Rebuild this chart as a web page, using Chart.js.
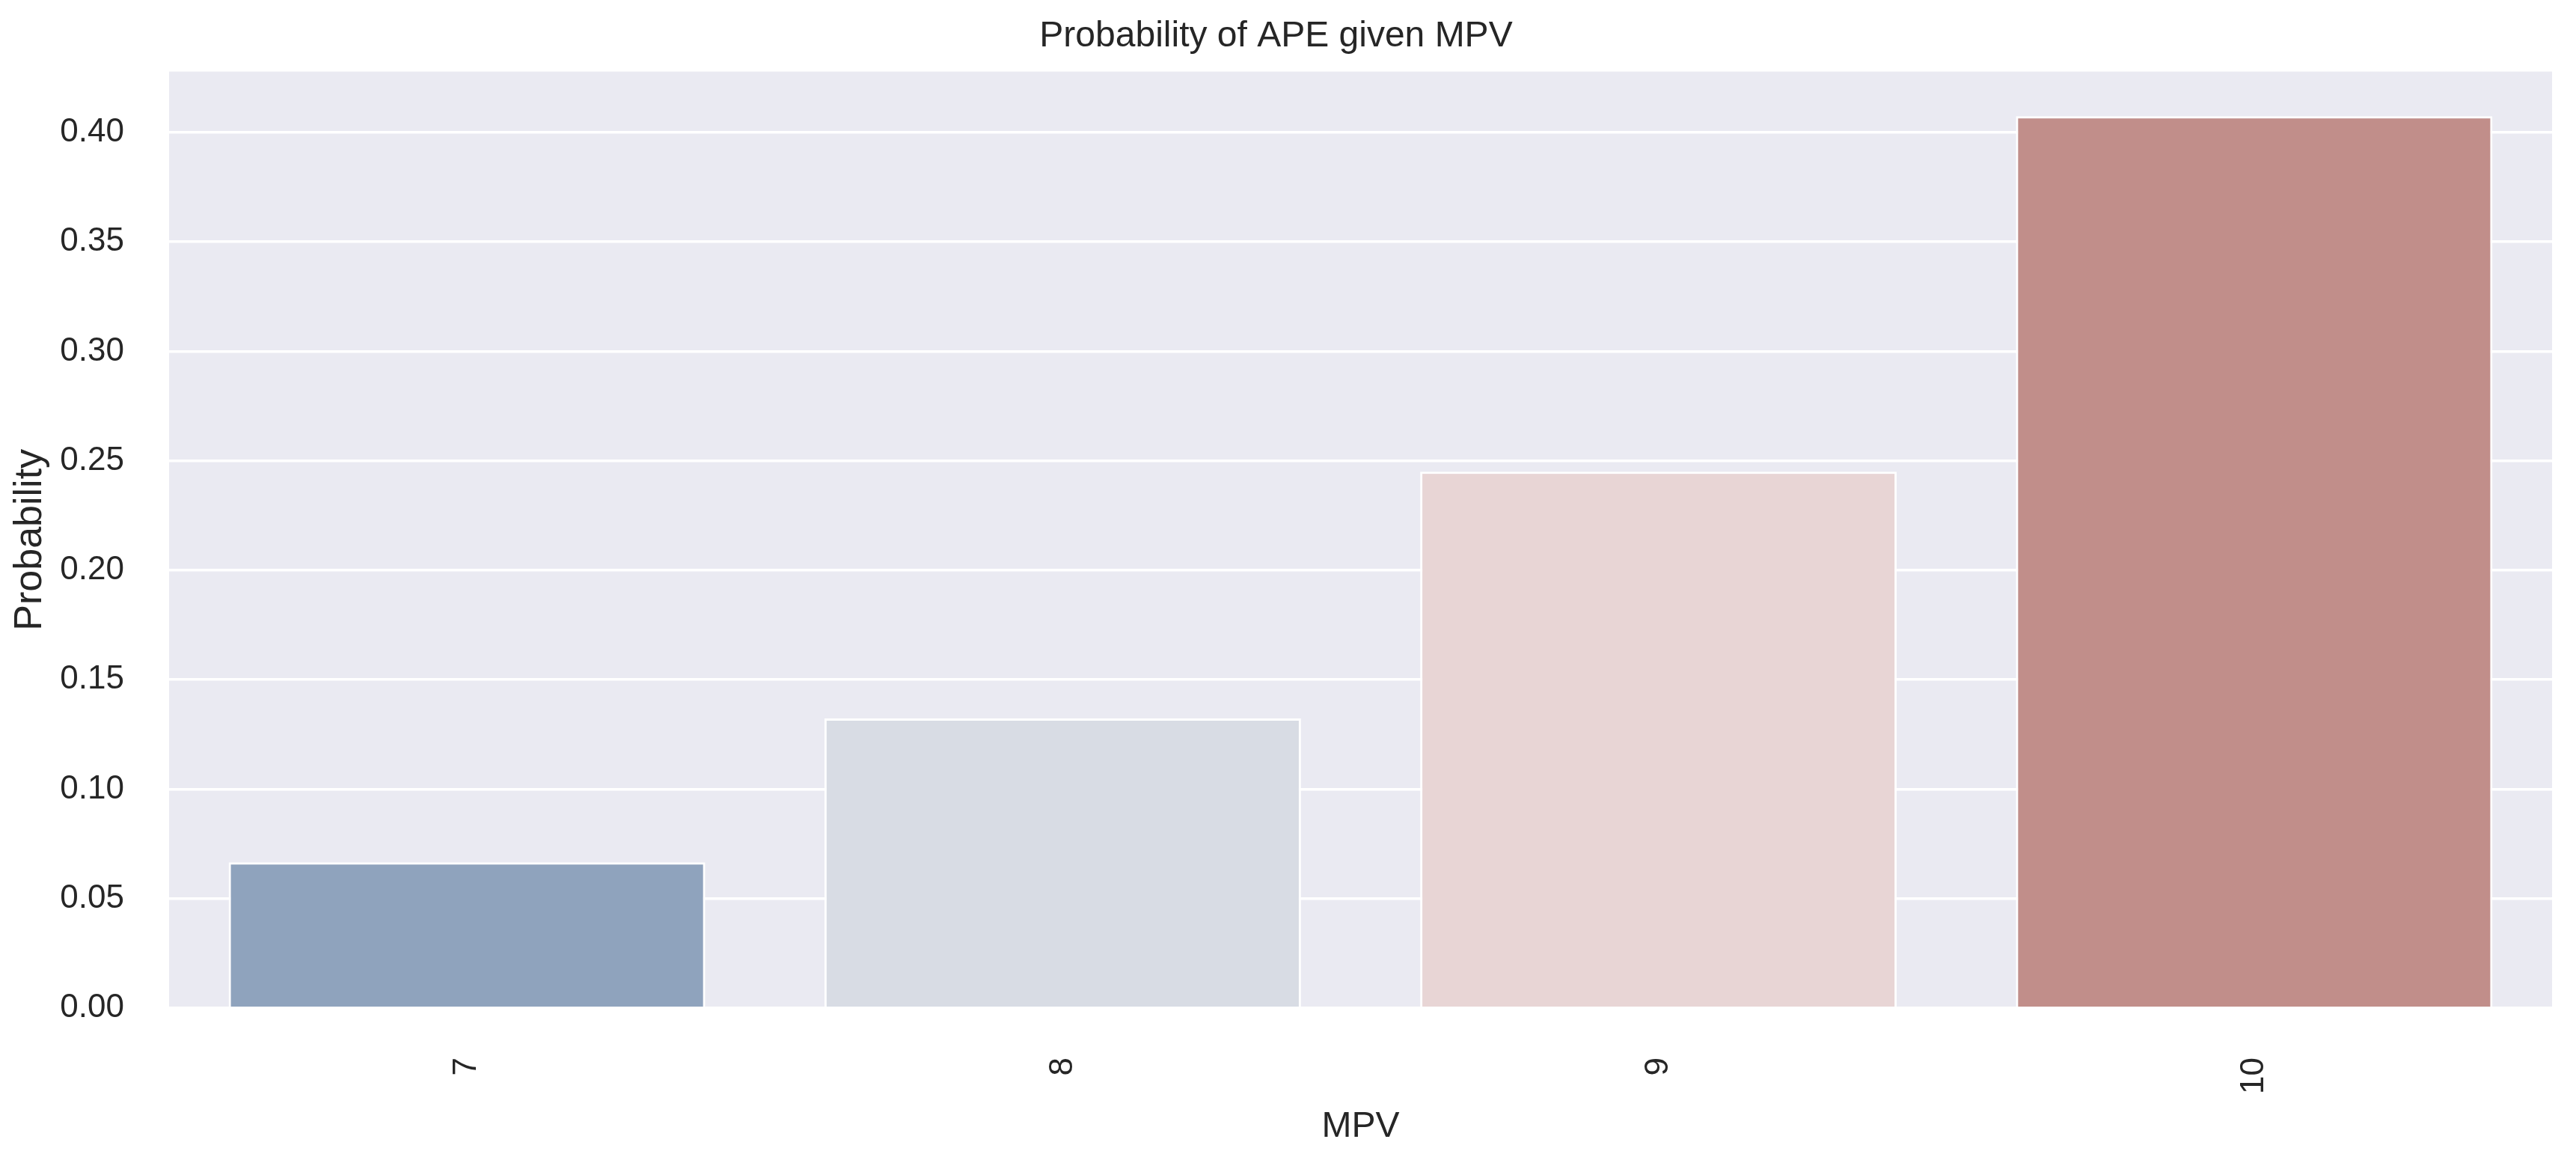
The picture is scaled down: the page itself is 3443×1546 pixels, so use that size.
<!DOCTYPE html>
<html>
<head>
<meta charset="utf-8">
<script src="https://cdn.jsdelivr.net/npm/chart.js@4.4.0/dist/chart.umd.min.js"></script>
<style>
  html, body { margin: 0; padding: 0; background: #fff; }
  .wrap { width: 3443px; height: 1546px; position: relative; }
</style>
</head>
<body>
<div class="wrap"><canvas id="chart"></canvas></div>
<script>
// ===== Data =====
const categories = ['7', '8', '9', '10'];
const probabilities = [0.0666, 0.1323, 0.2450, 0.4074];
const barColors = ['#8fa3bd', '#d8dce4', '#e8d5d5', '#c18e8a'];
const yTicks = [0, 0.05, 0.10, 0.15, 0.20, 0.25, 0.30, 0.35, 0.40];
const yMax = 0.4278;

const FONT = "'Liberation Sans', Arial, sans-serif";
const TEXT = '#262626';

// grey plot background like seaborn darkgrid
const plotBackground = {
  id: 'plotBackground',
  beforeDraw(chart) {
    const { ctx, chartArea: a } = chart;
    ctx.save();
    ctx.fillStyle = '#eaeaf2';
    ctx.fillRect(a.left, a.top, a.right - a.left, a.bottom - a.top);
    ctx.restore();
  }
};

new Chart(document.getElementById('chart'), {
  type: 'bar',
  data: {
    labels: categories,
    datasets: [{
      data: probabilities,
      backgroundColor: barColors,
      borderColor: '#ffffff',
      borderWidth: 3,
      categoryPercentage: 0.8,
      barPercentage: 1.0,
    }]
  },
  options: {
    responsive: true,
    maintainAspectRatio: false,
    animation: false,
    layout: { padding: { left: 0, right: 32, top: 0, bottom: 0 } },
    plugins: {
      legend: { display: false },
      tooltip: { enabled: false },
      title: {
        display: true,
        text: 'Probability of APE given MPV',
        color: TEXT,
        font: { family: FONT, size: 48, weight: 'normal', lineHeight: 1.2 },
        padding: { top: 20, bottom: 18 }
      }
    },
    scales: {
      x: {
        grid: { display: false, drawTicks: false },
        border: { display: false },
        ticks: {
          color: TEXT,
          font: { family: FONT, size: 44 },
          padding: 66,
          minRotation: 90,
          maxRotation: 90,
          autoSkip: false
        },
        title: {
          display: true,
          text: 'MPV',
          color: TEXT,
          font: { family: FONT, size: 48, lineHeight: 1.2 },
          padding: { top: 0, bottom: 11 }
        },
        afterFit(scale) { scale.height = 199; }
      },
      y: {
        min: 0,
        max: yMax,
        grid: { color: '#ffffff', lineWidth: 3.5, drawTicks: false },
        border: { display: false },
        ticks: {
          color: TEXT,
          font: { family: FONT, size: 44 },
          padding: 60,
          callback: v => v.toFixed(2)
        },
        title: {
          display: true,
          text: 'Probability',
          color: TEXT,
          font: { family: FONT, size: 52, lineHeight: 1.2 },
          padding: { top: 9, bottom: 0 }
        },
        afterBuildTicks(scale) { scale.ticks = yTicks.map(v => ({ value: v })); },
        afterFit(scale) { scale.width = 226; }
      }
    }
  },
  plugins: [plotBackground]
});
</script>
</body>
</html>
